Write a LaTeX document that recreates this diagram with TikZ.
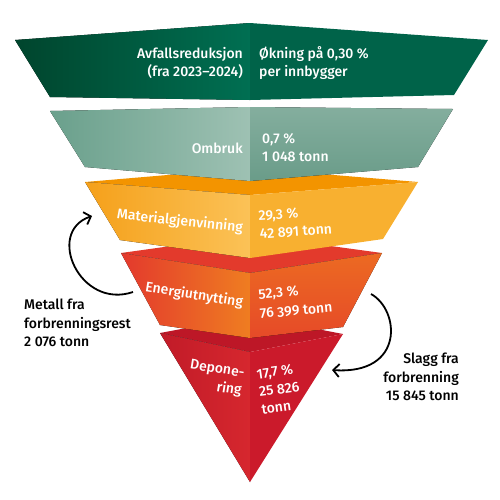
\documentclass[tikz,border=0pt]{standalone}
\usepackage{fontspec}
\setmainfont{Fira Sans}[BoldFont={Fira Sans Medium}]
\usetikzlibrary{arrows.meta}
\definecolor{gA}{HTML}{00452D}
\definecolor{gB}{HTML}{006F52}
\definecolor{gC}{HTML}{006349}
\definecolor{sA}{HTML}{6AA08C}
\definecolor{sB}{HTML}{9EC1B3}
\definecolor{sC}{HTML}{84AE9E}
\definecolor{sD}{HTML}{6A9C89}
\definecolor{oT}{HTML}{F39400}
\definecolor{oA}{HTML}{F5A01A}
\definecolor{oB}{HTML}{FBC257}
\definecolor{oC}{HTML}{F8B030}
\definecolor{rT}{HTML}{E33A2C}
\definecolor{rA}{HTML}{E3392D}
\definecolor{rB}{HTML}{EF7D21}
\definecolor{rC}{HTML}{EC6A22}
\definecolor{rD}{HTML}{E64A28}
\definecolor{dT}{HTML}{BD1727}
\definecolor{dA}{HTML}{C11B28}
\definecolor{dB}{HTML}{D6272E}
\definecolor{dC}{HTML}{CB1A2B}
\tikzset{
  lbl/.style={text=white,font=\bfseries\fontsize{14}{18}\selectfont,inner sep=0pt},
  lblL/.style={lbl,anchor=east,align=right},
  lblR/.style={lbl,anchor=west,align=left},
  note/.style={text=black,font=\bfseries\fontsize{14}{18.5}\selectfont,inner sep=0pt},
  flow/.style={line width=1.8pt,black,-{Straight Barb[length=6pt,width=13pt,line width=1.8pt]}}
}
\begin{document}
\begin{tikzpicture}[x=1pt,y=-1pt]
\useasboundingbox (0,0) rectangle (500,499);
% level 5
\fill[dT] (160,333) -- (250,316) -- (343,334) -- (250,352) -- cycle;
\fill[left color=dA,right color=dB] (160,333) -- (250,352) -- (250,482) -- cycle;
\fill[dC] (250,352) -- (343,334) -- (250,482) -- cycle;
% level 4
\fill[rT] (121,253) -- (250,235) -- (382,253) -- (250,273) -- cycle;
\fill[left color=rA,right color=rB] (121,253) -- (250,273) -- (250,338) -- (160,325) -- cycle;
\fill[top color=rC,bottom color=rD] (250,273) -- (382,253) -- (343,327) -- (250,338) -- cycle;
% level 3
\fill[oT] (85,182) -- (250,168) -- (418,182) -- (250,195) -- cycle;
\fill[left color=oA,right color=oB] (85,182) -- (250,195) -- (250,258) -- (120,240) -- cycle;
\fill[oC] (250,195) -- (418,182) -- (383,239) -- (250,258) -- cycle;
% level 2
\fill[left color=sA,right color=sB] (50,111) -- (250,107) -- (250,181) -- (85,167) -- cycle;
\fill[top color=sC,bottom color=sD] (250,107) -- (453,109) -- (418,167) -- (250,181) -- cycle;
% level 1
\fill[left color=gA,right color=gB] (15,40) -- (250,23) -- (250,100) -- (50,97) -- cycle;
\fill[gC] (250,23) -- (488,40) -- (454,95) -- (250,100) -- cycle;
% texts
\node[lblL] (t1l) at (243,63) {Avfallsreduksjon\\(fra 2023--2024)};
\node[lblR] (t1r) at (259,63) {Økning på 0,30 \%\\per innbygger};
\node[lblL] (t2l) at (243,148) {Ombruk};
\node[lblR] (t2r) at (262,148) {0,7 \%\\1 048 tonn};
\node[lblL,rotate=-6] (t3l) at (243,228) {Materialgjenvinning};
\node[lblR,rotate=4] (t3r) at (259,225) {29,3 \%\\42 891 tonn};
\node[lblL,rotate=-9] (t4l) at (243,303) {Energiutnytting};
\node[lblR,rotate=5,font=\bfseries\fontsize{14}{19.5}\selectfont] (t4r) at (259,304) {52,3 \%\\76 399 tonn};
\node[lblL,rotate=-9] (t5l) at (243,383) {Depone-\\ring};
\node[lblR,rotate=8] (t5r) at (259,392) {17,7 \%\\25 826\\tonn};
\node[note,anchor=west,align=left] (metal) at (24,323) {Metall fra\\forbrenningsrest\\2 076 tonn};
\node[note,anchor=east,align=right] (slagg) at (459,377) {Slagg fra\\forbrenning\\15 845 tonn};
% arrows
\coordinate (a1s) at (133,292);
\coordinate (a1e) at (92,216);
\coordinate (a2s) at (371,294);
\coordinate (a2e) at (332,370);
\draw[flow] (a1s) .. controls (80,310) and (45,232) .. (a1e);
\draw[flow] (a2s) .. controls (400,310) and (405,375) .. (a2e);
\end{tikzpicture}
\end{document}
